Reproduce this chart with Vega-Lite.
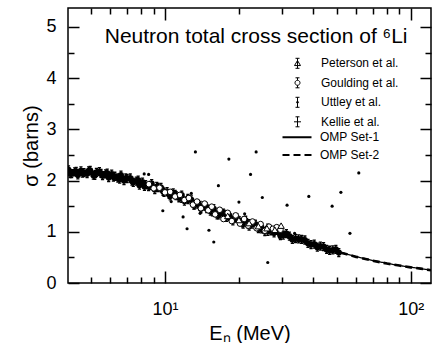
{
"$schema": "https://vega.github.io/schema/vega-lite/v6.json",
"width": 363,
"height": 275,
"autosize": {"type": "none"},
"padding": {"left": 68, "top": 8, "right": 1, "bottom": 60},
"background": "white",
"config": {
  "font": "Liberation Sans",
  "view": {"stroke": "black", "strokeWidth": 1.5},
  "axis": {"grid": false, "domain": false, "tickColor": "black", "tickWidth": 1.5, "labelColor": "black", "labelFont": "Liberation Sans", "labelFontSize": 18, "titleFont": "Liberation Sans", "titleFontSize": 20, "titleFontWeight": "normal", "titleColor": "black", "labelFlush": false, "labelOverlap": false},
  "legend": {"labelFont": "Liberation Sans", "labelFontSize": 12, "labelColor": "black", "padding": 0, "symbolStrokeColor": "black", "symbolStrokeWidth": 1, "title": null}
},
"datasets": {
  "omp": [
    {"model":"OMP Set-1","E":4.03,"sigma":2.17},{"model":"OMP Set-1","E":4.5,"sigma":2.165},{"model":"OMP Set-1","E":5,"sigma":2.15},{"model":"OMP Set-1","E":5.5,"sigma":2.13},{"model":"OMP Set-1","E":6,"sigma":2.10},{"model":"OMP Set-1","E":6.5,"sigma":2.065},{"model":"OMP Set-1","E":7,"sigma":2.03},{"model":"OMP Set-1","E":7.5,"sigma":1.99},{"model":"OMP Set-1","E":8,"sigma":1.955},{"model":"OMP Set-1","E":8.5,"sigma":1.915},{"model":"OMP Set-1","E":9,"sigma":1.875},{"model":"OMP Set-1","E":9.5,"sigma":1.835},{"model":"OMP Set-1","E":10,"sigma":1.79},{"model":"OMP Set-1","E":11,"sigma":1.715},{"model":"OMP Set-1","E":12,"sigma":1.64},{"model":"OMP Set-1","E":13,"sigma":1.57},{"model":"OMP Set-1","E":14,"sigma":1.505},{"model":"OMP Set-1","E":15,"sigma":1.445},{"model":"OMP Set-1","E":16,"sigma":1.39},{"model":"OMP Set-1","E":17,"sigma":1.345},{"model":"OMP Set-1","E":18,"sigma":1.30},{"model":"OMP Set-1","E":19,"sigma":1.26},{"model":"OMP Set-1","E":20,"sigma":1.22},{"model":"OMP Set-1","E":22,"sigma":1.15},{"model":"OMP Set-1","E":24,"sigma":1.09},{"model":"OMP Set-1","E":26,"sigma":1.035},{"model":"OMP Set-1","E":28,"sigma":0.99},{"model":"OMP Set-1","E":30,"sigma":0.945},{"model":"OMP Set-1","E":33,"sigma":0.885},{"model":"OMP Set-1","E":36,"sigma":0.83},{"model":"OMP Set-1","E":40,"sigma":0.76},{"model":"OMP Set-1","E":45,"sigma":0.685},{"model":"OMP Set-1","E":50,"sigma":0.62},{"model":"OMP Set-1","E":55,"sigma":0.565},{"model":"OMP Set-1","E":60,"sigma":0.515},{"model":"OMP Set-1","E":70,"sigma":0.44},{"model":"OMP Set-1","E":80,"sigma":0.385},{"model":"OMP Set-1","E":90,"sigma":0.34},{"model":"OMP Set-1","E":100,"sigma":0.31},{"model":"OMP Set-1","E":110,"sigma":0.28},{"model":"OMP Set-1","E":121,"sigma":0.25},
    {"model":"OMP Set-2","E":4.03,"sigma":2.16},{"model":"OMP Set-2","E":4.5,"sigma":2.16},{"model":"OMP Set-2","E":5,"sigma":2.15},{"model":"OMP Set-2","E":5.5,"sigma":2.135},{"model":"OMP Set-2","E":6,"sigma":2.11},{"model":"OMP Set-2","E":6.5,"sigma":2.075},{"model":"OMP Set-2","E":7,"sigma":2.04},{"model":"OMP Set-2","E":7.5,"sigma":2.00},{"model":"OMP Set-2","E":8,"sigma":1.96},{"model":"OMP Set-2","E":8.5,"sigma":1.92},{"model":"OMP Set-2","E":9,"sigma":1.88},{"model":"OMP Set-2","E":9.5,"sigma":1.84},{"model":"OMP Set-2","E":10,"sigma":1.795},{"model":"OMP Set-2","E":11,"sigma":1.72},{"model":"OMP Set-2","E":12,"sigma":1.645},{"model":"OMP Set-2","E":13,"sigma":1.575},{"model":"OMP Set-2","E":14,"sigma":1.51},{"model":"OMP Set-2","E":15,"sigma":1.45},{"model":"OMP Set-2","E":16,"sigma":1.395},{"model":"OMP Set-2","E":17,"sigma":1.345},{"model":"OMP Set-2","E":18,"sigma":1.30},{"model":"OMP Set-2","E":19,"sigma":1.26},{"model":"OMP Set-2","E":20,"sigma":1.22},{"model":"OMP Set-2","E":22,"sigma":1.15},{"model":"OMP Set-2","E":24,"sigma":1.09},{"model":"OMP Set-2","E":26,"sigma":1.035},{"model":"OMP Set-2","E":28,"sigma":0.985},{"model":"OMP Set-2","E":30,"sigma":0.94},{"model":"OMP Set-2","E":33,"sigma":0.88},{"model":"OMP Set-2","E":36,"sigma":0.825},{"model":"OMP Set-2","E":40,"sigma":0.755},{"model":"OMP Set-2","E":45,"sigma":0.68},{"model":"OMP Set-2","E":50,"sigma":0.615},{"model":"OMP Set-2","E":55,"sigma":0.56},{"model":"OMP Set-2","E":60,"sigma":0.51},{"model":"OMP Set-2","E":70,"sigma":0.435},{"model":"OMP Set-2","E":80,"sigma":0.38},{"model":"OMP Set-2","E":90,"sigma":0.34},{"model":"OMP Set-2","E":100,"sigma":0.305},{"model":"OMP Set-2","E":110,"sigma":0.28},{"model":"OMP Set-2","E":121,"sigma":0.25}
  ],
  "exp": [
    {"series":"Uttley et al.","E":4.05,"sigma":2.21},{"series":"Uttley et al.","E":4.17,"sigma":2.135},{"series":"Uttley et al.","E":4.29,"sigma":2.17},{"series":"Uttley et al.","E":4.42,"sigma":2.11},{"series":"Uttley et al.","E":4.55,"sigma":2.19},{"series":"Uttley et al.","E":4.68,"sigma":2.155},{"series":"Uttley et al.","E":4.82,"sigma":2.135},{"series":"Uttley et al.","E":4.96,"sigma":2.20},{"series":"Uttley et al.","E":5.11,"sigma":2.105},{"series":"Uttley et al.","E":5.26,"sigma":2.16},
    {"series":"Uttley et al.","E":5.41,"sigma":2.175},{"series":"Uttley et al.","E":5.57,"sigma":2.095},{"series":"Uttley et al.","E":5.73,"sigma":2.13},{"series":"Uttley et al.","E":5.90,"sigma":2.06},{"series":"Uttley et al.","E":6.07,"sigma":2.125},{"series":"Uttley et al.","E":6.25,"sigma":2.085},{"series":"Uttley et al.","E":6.43,"sigma":2.05},{"series":"Uttley et al.","E":6.62,"sigma":2.105},{"series":"Uttley et al.","E":6.81,"sigma":2.00},{"series":"Uttley et al.","E":7.01,"sigma":2.04},
    {"series":"Uttley et al.","E":7.22,"sigma":2.05},{"series":"Uttley et al.","E":7.43,"sigma":1.965},{"series":"Uttley et al.","E":7.65,"sigma":1.99},{"series":"Uttley et al.","E":7.87,"sigma":1.91},{"series":"Uttley et al.","E":8.10,"sigma":1.97},{"series":"Uttley et al.","E":8.34,"sigma":1.92},{"series":"Uttley et al.","E":8.58,"sigma":1.88},{"series":"Uttley et al.","E":8.83,"sigma":1.94},{"series":"Uttley et al.","E":9.09,"sigma":1.825},{"series":"Uttley et al.","E":9.36,"sigma":1.865},
    {"series":"Uttley et al.","E":9.63,"sigma":1.865},{"series":"Uttley et al.","E":9.91,"sigma":1.77},{"series":"Uttley et al.","E":10.2,"sigma":1.785},{"series":"Uttley et al.","E":10.5,"sigma":1.70},{"series":"Uttley et al.","E":10.8,"sigma":1.76},{"series":"Uttley et al.","E":11.1,"sigma":1.705},{"series":"Uttley et al.","E":11.4,"sigma":1.665},{"series":"Uttley et al.","E":11.7,"sigma":1.715},{"series":"Uttley et al.","E":12.0,"sigma":1.60},{"series":"Uttley et al.","E":12.4,"sigma":1.63},
    {"series":"Uttley et al.","E":12.8,"sigma":1.625},{"series":"Uttley et al.","E":13.2,"sigma":1.525},{"series":"Uttley et al.","E":13.6,"sigma":1.54},{"series":"Uttley et al.","E":14.0,"sigma":1.45},{"series":"Uttley et al.","E":14.4,"sigma":1.505},{"series":"Uttley et al.","E":14.8,"sigma":1.455},{"series":"Uttley et al.","E":15.3,"sigma":1.405},{"series":"Uttley et al.","E":15.8,"sigma":1.45},{"series":"Uttley et al.","E":16.3,"sigma":1.33},{"series":"Uttley et al.","E":16.8,"sigma":1.365},
    {"series":"Uttley et al.","E":17.3,"sigma":1.365},{"series":"Uttley et al.","E":17.8,"sigma":1.28},{"series":"Uttley et al.","E":18.3,"sigma":1.30},{"series":"Uttley et al.","E":18.9,"sigma":1.215},{"series":"Uttley et al.","E":19.5,"sigma":1.27},{"series":"Uttley et al.","E":20.1,"sigma":1.215},{"series":"Uttley et al.","E":20.7,"sigma":1.175},{"series":"Uttley et al.","E":21.3,"sigma":1.225},{"series":"Uttley et al.","E":22.0,"sigma":1.11},{"series":"Uttley et al.","E":22.6,"sigma":1.15},
    {"series":"Uttley et al.","E":23.3,"sigma":1.15},{"series":"Uttley et al.","E":24.0,"sigma":1.06},{"series":"Uttley et al.","E":24.7,"sigma":1.085},{"series":"Uttley et al.","E":25.5,"sigma":1.005},{"series":"Uttley et al.","E":26.2,"sigma":1.07},{"series":"Uttley et al.","E":27.0,"sigma":1.02},{"series":"Uttley et al.","E":27.8,"sigma":0.98},{"series":"Uttley et al.","E":28.7,"sigma":1.03},{"series":"Uttley et al.","E":29.5,"sigma":0.925},
    {"series":"Uttley et al.","E":4.11,"sigma":2.135},{"series":"Uttley et al.","E":4.35,"sigma":2.18},{"series":"Uttley et al.","E":4.61,"sigma":2.145},{"series":"Uttley et al.","E":4.89,"sigma":2.19},{"series":"Uttley et al.","E":5.18,"sigma":2.10},{"series":"Uttley et al.","E":5.49,"sigma":2.14},{"series":"Uttley et al.","E":5.82,"sigma":2.145},{"series":"Uttley et al.","E":6.17,"sigma":2.07},{"series":"Uttley et al.","E":6.54,"sigma":2.03},{"series":"Uttley et al.","E":6.93,"sigma":2.05},
    {"series":"Uttley et al.","E":7.34,"sigma":1.99},{"series":"Uttley et al.","E":7.78,"sigma":2.01},{"series":"Uttley et al.","E":8.25,"sigma":1.885},{"series":"Uttley et al.","E":8.74,"sigma":1.905},{"series":"Uttley et al.","E":9.26,"sigma":1.885},{"series":"Uttley et al.","E":9.82,"sigma":1.79},{"series":"Uttley et al.","E":10.4,"sigma":1.73},{"series":"Uttley et al.","E":11.0,"sigma":1.73},{"series":"Uttley et al.","E":11.7,"sigma":1.655},{"series":"Uttley et al.","E":12.4,"sigma":1.65},
    {"series":"Uttley et al.","E":13.1,"sigma":1.52},{"series":"Uttley et al.","E":13.9,"sigma":1.515},{"series":"Uttley et al.","E":14.7,"sigma":1.49},{"series":"Uttley et al.","E":15.6,"sigma":1.39},{"series":"Uttley et al.","E":16.5,"sigma":1.33},{"series":"Uttley et al.","E":17.5,"sigma":1.34},{"series":"Uttley et al.","E":18.5,"sigma":1.27},{"series":"Uttley et al.","E":19.6,"sigma":1.275},{"series":"Uttley et al.","E":20.8,"sigma":1.15},{"series":"Uttley et al.","E":22.0,"sigma":1.16},
    {"series":"Uttley et al.","E":23.3,"sigma":1.14},{"series":"Uttley et al.","E":24.7,"sigma":1.055},{"series":"Uttley et al.","E":26.2,"sigma":1.01},{"series":"Uttley et al.","E":27.8,"sigma":1.02},{"series":"Uttley et al.","E":29.4,"sigma":0.955},{"series":"Uttley et al.","E":31.2,"sigma":0.965},{"series":"Uttley et al.","E":33.0,"sigma":0.85},{"series":"Uttley et al.","E":35.0,"sigma":0.86},{"series":"Uttley et al.","E":37.1,"sigma":0.84},{"series":"Uttley et al.","E":39.3,"sigma":0.75},
    {"series":"Uttley et al.","E":41.7,"sigma":0.70},{"series":"Uttley et al.","E":44.2,"sigma":0.71},{"series":"Uttley et al.","E":46.8,"sigma":0.64},{"series":"Uttley et al.","E":49.6,"sigma":0.655},{"series":"Uttley et al.","E":30.3,"sigma":0.935},{"series":"Uttley et al.","E":32.1,"sigma":0.915},{"series":"Uttley et al.","E":34.0,"sigma":0.865},{"series":"Uttley et al.","E":36.0,"sigma":0.85},{"series":"Uttley et al.","E":38.2,"sigma":0.775},{"series":"Uttley et al.","E":40.5,"sigma":0.76},
    {"series":"Uttley et al.","E":42.9,"sigma":0.72},{"series":"Uttley et al.","E":45.5,"sigma":0.655},{"series":"Uttley et al.","E":48.2,"sigma":0.645},{"series":"Uttley et al.","E":51.0,"sigma":0.595},
    {"series":"Goulding et al.","E":8.6,"sigma":1.93},{"series":"Goulding et al.","E":9.0,"sigma":1.85},{"series":"Goulding et al.","E":9.5,"sigma":1.86},{"series":"Goulding et al.","E":10.0,"sigma":1.77},{"series":"Goulding et al.","E":10.5,"sigma":1.78},{"series":"Goulding et al.","E":11.0,"sigma":1.69},{"series":"Goulding et al.","E":11.5,"sigma":1.72},{"series":"Goulding et al.","E":12.0,"sigma":1.62},{"series":"Goulding et al.","E":12.5,"sigma":1.66},{"series":"Goulding et al.","E":13.0,"sigma":1.53},
    {"series":"Goulding et al.","E":13.5,"sigma":1.59},{"series":"Goulding et al.","E":14.0,"sigma":1.46},{"series":"Goulding et al.","E":14.5,"sigma":1.55},{"series":"Goulding et al.","E":15.0,"sigma":1.42},{"series":"Goulding et al.","E":15.5,"sigma":1.49},{"series":"Goulding et al.","E":16.0,"sigma":1.34},{"series":"Goulding et al.","E":16.7,"sigma":1.43},{"series":"Goulding et al.","E":17.3,"sigma":1.25},{"series":"Goulding et al.","E":18.0,"sigma":1.37},{"series":"Goulding et al.","E":18.7,"sigma":1.21},
    {"series":"Goulding et al.","E":19.4,"sigma":1.32},{"series":"Goulding et al.","E":20.2,"sigma":1.16},{"series":"Goulding et al.","E":21.0,"sigma":1.25},{"series":"Goulding et al.","E":21.8,"sigma":1.12},{"series":"Goulding et al.","E":22.7,"sigma":1.20},{"series":"Goulding et al.","E":23.6,"sigma":1.07},{"series":"Goulding et al.","E":24.5,"sigma":1.15},{"series":"Goulding et al.","E":25.5,"sigma":1.02},{"series":"Goulding et al.","E":26.5,"sigma":1.10},{"series":"Goulding et al.","E":27.5,"sigma":1.06},
    {"series":"Goulding et al.","E":28.5,"sigma":1.09},{"series":"Goulding et al.","E":29.5,"sigma":1.04},
    {"series":"Peterson et al.","E":18.0,"sigma":1.31},{"series":"Peterson et al.","E":20.0,"sigma":1.23},{"series":"Peterson et al.","E":22.0,"sigma":1.17},{"series":"Peterson et al.","E":24.0,"sigma":1.11},{"series":"Peterson et al.","E":26.0,"sigma":1.07},{"series":"Peterson et al.","E":28.0,"sigma":1.04},{"series":"Peterson et al.","E":29.7,"sigma":1.12},
    {"series":"Kellie et al.","E":13.3,"sigma":2.56},{"series":"Kellie et al.","E":18.2,"sigma":2.42},{"series":"Kellie et al.","E":23.5,"sigma":2.56},{"series":"Kellie et al.","E":22.3,"sigma":2.12},{"series":"Kellie et al.","E":61.5,"sigma":2.15},{"series":"Kellie et al.","E":16.5,"sigma":1.90},{"series":"Kellie et al.","E":12.8,"sigma":1.75},{"series":"Kellie et al.","E":8.23,"sigma":2.13},{"series":"Kellie et al.","E":8.58,"sigma":2.12},{"series":"Kellie et al.","E":52,"sigma":1.77},
    {"series":"Kellie et al.","E":38.5,"sigma":1.69},{"series":"Kellie et al.","E":24.9,"sigma":1.67},{"series":"Kellie et al.","E":20.0,"sigma":1.58},{"series":"Kellie et al.","E":31.4,"sigma":1.52},{"series":"Kellie et al.","E":47.9,"sigma":1.50},{"series":"Kellie et al.","E":10.6,"sigma":1.59},{"series":"Kellie et al.","E":9.8,"sigma":1.41},{"series":"Kellie et al.","E":11.85,"sigma":1.29},{"series":"Kellie et al.","E":13.9,"sigma":1.36},{"series":"Kellie et al.","E":12.3,"sigma":1.06},
    {"series":"Kellie et al.","E":15.1,"sigma":1.03},{"series":"Kellie et al.","E":15.8,"sigma":0.80},{"series":"Kellie et al.","E":33.7,"sigma":0.97},{"series":"Kellie et al.","E":35.9,"sigma":0.89},{"series":"Kellie et al.","E":56.6,"sigma":0.97},{"series":"Kellie et al.","E":26.2,"sigma":0.40},{"series":"Kellie et al.","E":21.1,"sigma":1.35}
  ]
},
"layer": [
  {
    "data": {"name": "omp"},
    "transform": [{"filter": "datum.model === 'OMP Set-1'"}],
    "mark": {"type": "line", "color": "black", "strokeWidth": 1.3, "clip": true},
    "encoding": {
      "x": {"field": "E", "type": "quantitative", "scale": {"type": "log", "domain": [4.03, 121]},
        "axis": {"orient": "bottom", "values": [10, 100], "ticks": false, "tickSize": 0, "labelExpr": "datum.value === 10 ? '10¹' : '10²'", "labelPadding": 17, "title": "Eₙ (MeV)", "titlePadding": 5}},
      "y": {"field": "sigma", "type": "quantitative", "scale": {"domain": [0, 5.37], "nice": false, "zero": false},
        "axis": {"orient": "left", "values": [0,1,2,3,4,5], "ticks": false, "tickSize": 0, "format": "d", "labelPadding": 12, "title": "σ (barns)", "titlePadding": 4}},
      "strokeDash": {"field": "model", "type": "nominal", "scale": {"domain": ["OMP Set-1", "OMP Set-2"], "range": [[1, 0], [7, 4]]},
        "legend": {"orient": "none", "legendX": 223, "legendY": 123.3, "symbolType": "M-2.9,0H2.9", "symbolSize": 100, "symbolStrokeWidth": 2, "labelOffset": 17, "rowPadding": 5.7}}
    }
  },
  {
    "data": {"name": "omp"},
    "transform": [{"filter": "datum.model === 'OMP Set-2'"}],
    "mark": {"type": "line", "color": "black", "strokeWidth": 2.6, "clip": true},
    "encoding": {
      "x": {"field": "E", "type": "quantitative", "scale": {"type": "log", "domain": [4.03, 121]},
        "axis": {"orient": "bottom", "values": [10, 100], "labels": false, "title": null, "tickSize": -12}},
      "y": {"field": "sigma", "type": "quantitative", "scale": {"domain": [0, 5.37], "nice": false, "zero": false},
        "axis": {"orient": "left", "values": [0,1,2,3,4,5], "labels": false, "title": null, "tickSize": -11}},
      "strokeDash": {"field": "model", "type": "nominal", "scale": {"domain": ["OMP Set-1", "OMP Set-2"], "range": [[1, 0], [7, 4]]},
        "legend": {"orient": "none", "legendX": 223, "legendY": 123.3, "symbolType": "M-2.9,0H2.9", "symbolSize": 100, "symbolStrokeWidth": 2, "labelOffset": 17, "rowPadding": 5.7}}
    }
  },
  {
    "data": {"name": "exp"},
    "transform": [{"filter": "datum.series === 'Uttley et al.'"}],
    "mark": {"type": "point", "shape": "circle", "filled": true, "color": "black", "opacity": 1, "size": 38, "clip": true},
    "encoding": {
      "x": {"field": "E", "type": "quantitative", "scale": {"type": "log", "domain": [4.03, 121]},
        "axis": {"orient": "bottom", "values": [5,6,7,8,9,20,30,40,50,60,70,80,90], "labels": false, "title": null, "tickSize": -6}},
      "y": {"field": "sigma", "type": "quantitative", "scale": {"domain": [0, 5.37], "nice": false, "zero": false},
        "axis": {"orient": "left", "values": [0.5,1.5,2.5,3.5,4.5], "labels": false, "title": null, "tickSize": -6}}
    }
  },
  {
    "data": {"name": "exp"},
    "transform": [{"filter": "datum.series === 'Uttley et al.'"}],
    "mark": {"type": "point", "filled": false, "color": "black", "strokeWidth": 1.3, "opacity": 1, "size": 64, "clip": true},
    "encoding": {
      "x": {"field": "E", "type": "quantitative", "scale": {"type": "log", "domain": [4.03, 121]},
        "axis": {"orient": "bottom", "offset": -275, "values": [10, 100], "labels": false, "title": null, "tickSize": 12}},
      "y": {"field": "sigma", "type": "quantitative", "scale": {"domain": [0, 5.37], "nice": false, "zero": false},
        "axis": {"orient": "left", "offset": -363, "values": [0,1,2,3,4,5], "labels": false, "title": null, "tickSize": 11}},
      "shape": {"field": "series", "type": "nominal",
        "scale": {"domain": ["Peterson et al.", "Goulding et al.", "Uttley et al.", "Kellie et al."],
          "range": ["M-0.6,0.45L0,-0.55L0.6,0.45ZM0,-1V1M-0.4,-1H0.4M-0.4,1H0.4",
                    "M-0.5,0A0.5,0.5 0 1,1 0.5,0A0.5,0.5 0 1,1 -0.5,0ZM0,-1V-0.5M0,0.5V1M-0.4,-1H0.4M-0.4,1H0.4",
                    "M0,-1V1M-0.4,-1H0.4M-0.4,1H0.4M-0.2,0A0.2,0.2 0 1,1 0.2,0A0.2,0.2 0 1,1 -0.2,0Z",
                    "M0,-1V1M-0.4,-1H0.4M-0.4,1H0.4M-0.7,0H0.7"]},
        "legend": {"orient": "none", "legendX": 223.5, "legendY": 49.3, "symbolSize": 100, "symbolStrokeWidth": 1, "labelOffset": 17.5, "rowPadding": 5.5}}
    }
  },
  {
    "data": {"name": "exp"},
    "transform": [{"filter": "datum.series === 'Goulding et al.'"}],
    "mark": {"type": "point", "shape": "circle", "filled": true, "fill": "white", "stroke": "black", "strokeWidth": 1, "opacity": 1, "fillOpacity": 1, "size": 32, "clip": true},
    "encoding": {
      "x": {"field": "E", "type": "quantitative", "scale": {"type": "log", "domain": [4.03, 121]},
        "axis": {"orient": "bottom", "offset": -275, "values": [5,6,7,8,9,20,30,40,50,60,70,80,90], "labels": false, "title": null, "tickSize": 6}},
      "y": {"field": "sigma", "type": "quantitative", "scale": {"domain": [0, 5.37], "nice": false, "zero": false},
        "axis": {"orient": "left", "offset": -363, "values": [0.5,1.5,2.5,3.5,4.5], "labels": false, "title": null, "tickSize": 6}}
    }
  },
  {
    "data": {"name": "exp"},
    "transform": [{"filter": "datum.series === 'Peterson et al.'"}],
    "mark": {"type": "point", "shape": "triangle-up", "filled": true, "fill": "white", "stroke": "black", "strokeWidth": 1, "opacity": 1, "fillOpacity": 1, "size": 40, "clip": true},
    "encoding": {
      "x": {"field": "E", "type": "quantitative", "scale": {"type": "log", "domain": [4.03, 121]}, "axis": null},
      "y": {"field": "sigma", "type": "quantitative", "scale": {"domain": [0, 5.37], "nice": false, "zero": false}, "axis": null}
    }
  },
  {
    "data": {"name": "exp"},
    "transform": [{"filter": "datum.series === 'Kellie et al.'"}],
    "mark": {"type": "point", "shape": "circle", "filled": true, "color": "black", "opacity": 1, "size": 10, "clip": true},
    "encoding": {
      "x": {"field": "E", "type": "quantitative", "scale": {"type": "log", "domain": [4.03, 121]}, "axis": null},
      "y": {"field": "sigma", "type": "quantitative", "scale": {"domain": [0, 5.37], "nice": false, "zero": false}, "axis": null}
    }
  },
  {
    "data": {"values": [{"label": "Neutron total cross section of ⁶Li"}]},
    "mark": {"type": "text", "font": "Liberation Sans", "fontSize": 21, "align": "center", "baseline": "alphabetic", "color": "black"},
    "encoding": {
      "text": {"field": "label"},
      "x": {"datum": 23.5, "type": "quantitative", "scale": {"type": "log", "domain": [4.03, 121]}, "axis": null},
      "y": {"datum": 4.693, "type": "quantitative", "scale": {"domain": [0, 5.37], "nice": false, "zero": false}, "axis": null}
    }
  }
],
"resolve": {"axis": {"x": "independent", "y": "independent"}}
}
